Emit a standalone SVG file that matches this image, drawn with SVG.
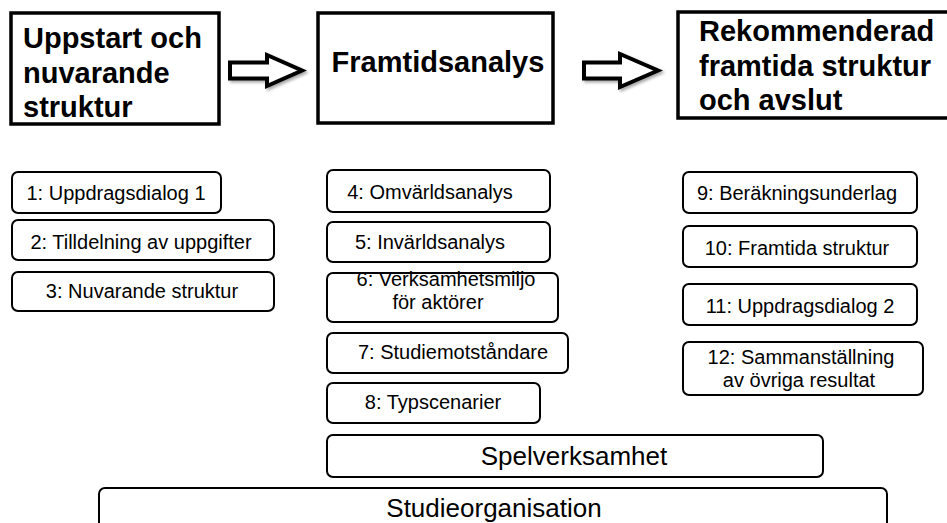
<svg xmlns="http://www.w3.org/2000/svg" width="947" height="523" viewBox="0 0 947 523">
<style>
.hd{fill:#fff;stroke:#000;stroke-width:3.5}
.bx{fill:#fff;stroke:#000;stroke-width:2}
.ht{font-family:"Liberation Sans",Arial,sans-serif;font-weight:bold;font-size:29px;fill:#000}
.t{font-family:"Liberation Sans",Arial,sans-serif;font-size:20px;fill:#000;text-anchor:middle}
.tl{font-family:"Liberation Sans",Arial,sans-serif;font-size:26px;fill:#000;text-anchor:middle}
.ar{fill:#fff;stroke:#000;stroke-width:4;stroke-linejoin:miter}
</style>
<defs>
<filter id="sh" x="-20%" y="-30%" width="150%" height="170%">
<feDropShadow dx="2" dy="2" stdDeviation="1.5" flood-color="#000" flood-opacity="0.35"/>
</filter>
</defs>
<rect width="947" height="523" fill="#fff"/>

<g id="head1"><rect class="hd" x="11" y="13" width="208" height="111"/>
<text class="ht" x="23" y="48">Uppstart och</text>
<text class="ht" x="23" y="83">nuvarande</text>
<text class="ht" x="23" y="117">struktur</text></g>

<g id="head2"><rect class="hd" x="318" y="13" width="235" height="110"/>
<text class="ht" x="438" y="72" text-anchor="middle">Framtidsanalys</text></g>

<g id="head3"><rect class="hd" x="678" y="12" width="275" height="106"/>
<text class="ht" x="699" y="41">Rekommenderad</text>
<text class="ht" x="699" y="76">framtida struktur</text>
<text class="ht" x="699" y="110">och avslut</text></g>

<g id="connectors">
<path class="ar" filter="url(#sh)" d="M230,62.5 H267 V55 L302,70.5 L267,86 V78.5 H230 Z"/>
<path class="ar" filter="url(#sh)" d="M584,62.5 H620 V54 L658,70.5 L620,87 V78.5 H584 Z"/>
</g>

<g id="n1"><rect class="bx" x="12" y="172" width="209" height="41" rx="6"/><text class="t" x="116" y="200">1: Uppdragsdialog 1</text></g>
<g id="n2"><rect class="bx" x="12" y="220" width="262" height="40" rx="6"/><text class="t" x="141" y="249">2: Tilldelning av uppgifter</text></g>
<g id="n3"><rect class="bx" x="12" y="272" width="262" height="39" rx="6"/><text class="t" x="142" y="298">3: Nuvarande struktur</text></g>

<g id="n4"><rect class="bx" x="327" y="170" width="223" height="42" rx="6"/><text class="t" x="430" y="199">4: Omvärldsanalys</text></g>
<g id="n5"><rect class="bx" x="327" y="222" width="223" height="40" rx="6"/><text class="t" x="430" y="249">5: Invärldsanalys</text></g>
<g id="n6"><rect class="bx" x="327" y="273" width="231" height="49" rx="6"/><text class="t" x="446" y="286">6: Verksamhetsmiljö</text><text class="t" x="438" y="309">för aktörer</text></g>
<g id="n7"><rect class="bx" x="327" y="333" width="241" height="40" rx="6"/><text class="t" x="453" y="359">7: Studiemotståndare</text></g>
<g id="n8"><rect class="bx" x="327" y="383" width="213" height="40" rx="6"/><text class="t" x="433" y="409">8: Typscenarier</text></g>

<g id="n9"><rect class="bx" x="683" y="172" width="234" height="41" rx="6"/><text class="t" x="797" y="200">9: Beräkningsunderlag</text></g>
<g id="n10"><rect class="bx" x="683" y="226" width="234" height="41" rx="6"/><text class="t" x="797" y="255">10: Framtida struktur</text></g>
<g id="n11"><rect class="bx" x="683" y="284" width="234" height="41" rx="6"/><text class="t" x="800" y="313">11: Uppdragsdialog 2</text></g>
<g id="n12"><rect class="bx" x="683" y="342" width="240" height="53" rx="6"/><text class="t" x="801" y="364">12: Sammanställning</text><text class="t" x="799" y="387">av övriga resultat</text></g>

<g id="spel"><rect class="bx" x="327" y="435" width="496" height="42" rx="6"/><text class="tl" x="574" y="465">Spelverksamhet</text></g>
<g id="studie"><rect class="bx" x="99" y="488" width="788" height="50" rx="6"/><text class="tl" x="494" y="517">Studieorganisation</text></g>
</svg>
